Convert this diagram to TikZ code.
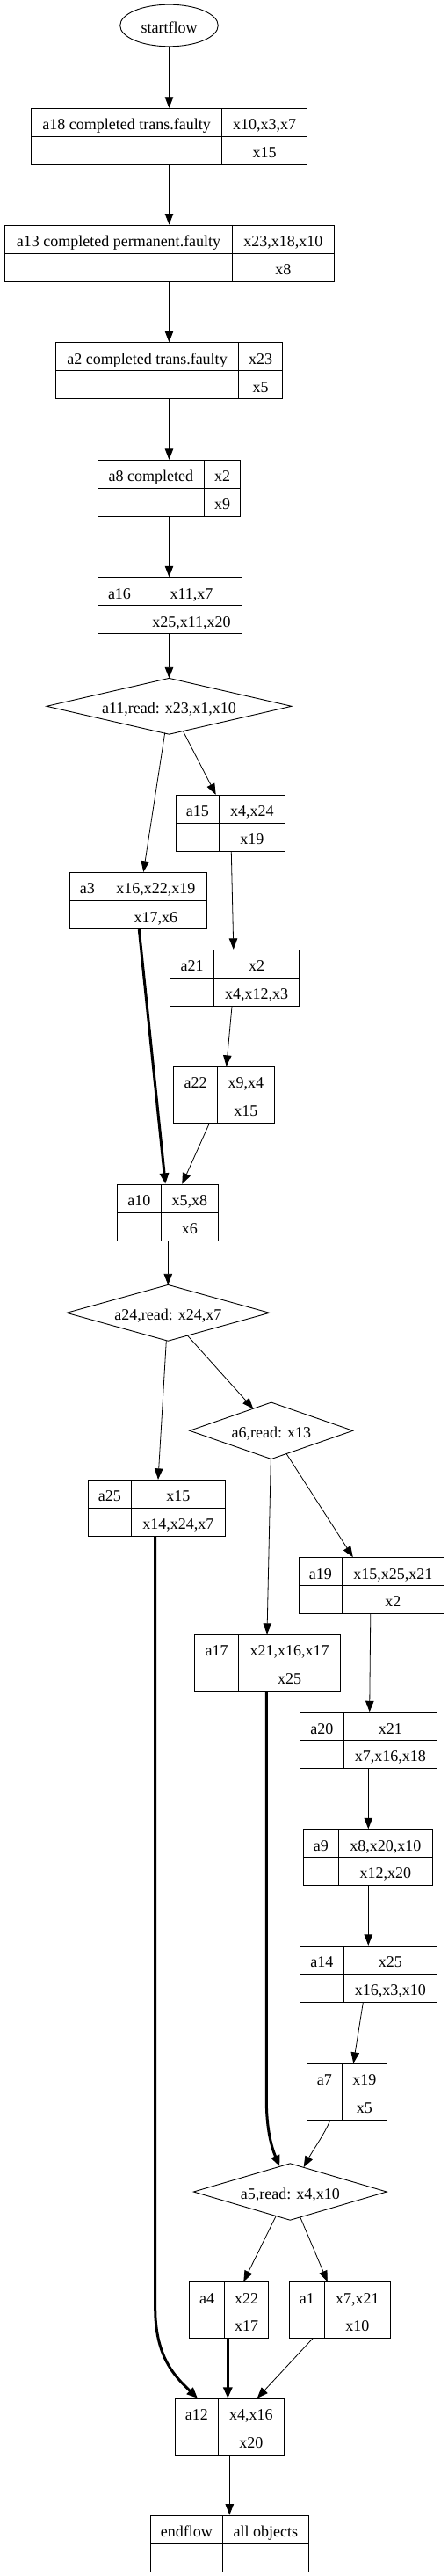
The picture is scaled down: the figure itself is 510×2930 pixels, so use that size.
\documentclass[tikz,border=0pt]{standalone}
\usepackage{fontspec}
\setmainfont{Liberation Serif}
\usetikzlibrary{arrows.meta,shapes.geometric,fit}
\tikzset{
  recline/.style={draw, line width=0.9pt},
  lbl/.style={font=\fontsize{18}{21}\selectfont, inner sep=0pt, anchor=base},
  flow/.style={draw, line width=0.8pt, -{Triangle[length=12.5pt,width=9.5pt]}},
  heavyflow/.style={draw, line width=3pt, -{Triangle[length=12.5pt,width=10pt]}},
}
% name, x1, y1, x2, y2, xdiv, left label, top-right, bottom-right
\newcommand\rec[9]{%
  \node[fit={(#2,#3) (#4,#5)}, inner sep=0pt, recline] (#1) {};
  \draw[line width=0.9pt] (#6,#3) -- (#6,#5);
  \draw[line width=0.9pt] (#2,{(#3+#5)/2}) -- (#4,{(#3+#5)/2});
  \node[lbl] (#1-l) at ({(#2+#6)/2},{(3*#3+#5)/4+8.5}) {#7};
  \node[lbl] (#1-tr) at ({(#6+#4)/2},{(3*#3+#5)/4+8.5}) {#8};
  \node[lbl] (#1-br) at ({(#6+#4)/2},{(#3+3*#5)/4+8.5}) {#9};
}
% name, cx, cy, full width, full height, text
\newcommand\dia[6]{%
  \node[inner sep=0pt, minimum width=#4pt, minimum height=#5pt] (#1) at (#2,#3) {};
  \draw[line width=0.9pt] (#1.north) -- (#1.east) -- (#1.south) -- (#1.west) -- cycle;
  \node[lbl] (#1-t) at (#2,{#3+8}) {#6};
}
\begin{document}
\begin{tikzpicture}[x=1pt,y=-1pt]
\useasboundingbox[fill=white] (0,0) rectangle (510,2930);

\node[draw, ellipse, line width=0.9pt, minimum width=111.6pt, minimum height=47.6pt, inner sep=0pt] (start) at (192.5,29) {};
\node[lbl] (start-t) at (192.5,37.5) {startflow};

\rec{a18}{35.7}{123.3}{349.3}{187.3}{252.7}{a18 completed trans.faulty}{x10,x3,x7}{x15}
\rec{a13}{5.7}{256}{380.3}{320.3}{264.3}{a13 completed permanent.faulty}{x23,x18,x10}{x8}
\rec{a2}{63.3}{389.7}{321.7}{453.7}{271.7}{a2 completed trans.faulty}{x23}{x5}
\rec{a8}{111.3}{523.3}{273.7}{587.3}{232.3}{a8 completed}{x2}{x9}
\rec{a16}{111.3}{656.7}{275.3}{720.7}{160.7}{a16}{x11,x7}{x25,x11,x20}
\dia{a11}{192.5}{803.3}{278.4}{63.4}{a11,read: x23,x1,x10}
\rec{a15}{200.3}{904.3}{324.3}{968.3}{249.3}{a15}{x4,x24}{x19}
\rec{a3}{79.3}{992.3}{235.3}{1056.7}{119.3}{a3}{x16,x22,x19}{x17,x6}
\rec{a21}{193.3}{1080.3}{340.3}{1144.3}{243.7}{a21}{x2}{x4,x12,x3}
\rec{a22}{197.7}{1213.3}{312.3}{1277.3}{247.3}{a22}{x9,x4}{x15}
\rec{a10}{133.3}{1347.3}{248.3}{1411.3}{183.3}{a10}{x5,x8}{x6}
\dia{a24}{191.3}{1493.3}{230.6}{63.4}{a24,read: x24,x7}
\dia{a6}{308.8}{1627.3}{185.6}{64}{a6,read: x13}
\rec{a25}{100.3}{1683.3}{256.3}{1747.3}{149.3}{a25}{x15}{x14,x24,x7}
\rec{a19}{340.3}{1771.7}{505.3}{1835.3}{389.3}{a19}{x15,x25,x21}{x2}
\rec{a17}{221.7}{1859.3}{387.3}{1923.3}{271.7}{a17}{x21,x16,x17}{x25}
\rec{a20}{341.3}{1947.7}{497.3}{2011.3}{391.3}{a20}{x21}{x7,x16,x18}
\rec{a9}{345.3}{2080.7}{492.3}{2144.3}{385.3}{a9}{x8,x20,x10}{x12,x20}
\rec{a14}{341.3}{2213.3}{497.3}{2277.3}{391.3}{a14}{x25}{x16,x3,x10}
\rec{a7}{349.3}{2347.3}{440.3}{2411.3}{389.3}{a7}{x19}{x5}
\dia{a5}{330.3}{2493}{219.4}{64}{a5,read: x4,x10}
\rec{a4}{215.7}{2595.7}{305.3}{2659.3}{255.7}{a4}{x22}{x17}
\rec{a1}{329.3}{2595.7}{444.3}{2659.3}{369.3}{a1}{x7,x21}{x10}
\rec{a12}{199.3}{2728.3}{323.3}{2792.3}{248.3}{a12}{x4,x16}{x20}
\rec{endflow}{171.3}{2861}{351.3}{2925.3}{253.3}{endflow}{all objects}{}

\coordinate (k1) at (176.7,2625);
\coordinate (k2) at (303.3,2390);

\draw[flow] (start.south) -- (a18.north);
\draw[flow] (a18.south) -- (a18.south |- a13.north);
\draw[flow] (a2.north |- a13.south) -- (a2.north);
\draw[flow] (a2.south) -- (a8.north);
\draw[flow] (a8.south) -- (a8.south |- a16.north);
\draw[flow] (a11.north |- a16.south) -- (a11.north);
\draw[flow] ([shift={(-4.8,30.2)}]a11.center) -- ([xshift=6]a3.north);
\draw[flow] ([shift={(15.8,28.1)}]a11.center) -- ([xshift=-16.6]a15.north);
\draw[flow] ([xshift=1]a15.south) -- ([xshift=-1]a21.north);
\draw[heavyflow] ([xshift=1]a3.south) -- ([xshift=-2.5]a10.north);
\draw[flow] ([xshift=-2.8]a21.south) -- ([xshift=2.7]a22.north);
\draw[flow] ([xshift=-16.7]a22.south) -- ([xshift=16.5]a10.north);
\draw[flow] (a24.north |- a10.south) -- (a24.north);
\draw[flow] ([xshift=-2]a24.south) -- ([xshift=1.7]a25.north);
\draw[flow] ([shift={(22,25.6)}]a24.center) -- ([shift={(-20.5,-24.9)}]a6.center);
\draw[flow] ([xshift=-0.5]a6.south) -- ([xshift=-0.5]a17.north);
\draw[flow] ([shift={(17.2,26.1)}]a6.center) -- ([xshift=-21]a19.north);
\draw[heavyflow] ([xshift=-1.6]a25.south) -- (k1) .. controls (176.7,2680) and (198,2702) .. ([xshift=-36.3]a12.north);
\draw[flow] ([xshift=-1]a19.south) -- ([xshift=1.4]a20.north);
\draw[heavyflow] ([xshift=-1.2]a17.south) -- (k2) .. controls (303.5,2422) and (309,2442) .. ([shift={(-12,-29)}]a5.center);
\draw[flow] (a20.south) -- (a20.south |- a9.north);
\draw[flow] (a14.north |- a9.south) -- (a14.north);
\draw[flow] ([xshift=-6]a14.south) -- ([xshift=7.5]a7.north);
\draw[flow] ([xshift=-19]a7.south) .. controls (369,2428) and (356,2446) .. ([shift={(15.4,-28)}]a5.center);
\draw[flow] ([shift={(-16,27.3)}]a5.center) -- ([xshift=16.8]a4.north);
\draw[flow] ([shift={(11.4,28.7)}]a5.center) -- ([xshift=-14]a1.north);
\draw[heavyflow] ([xshift=-1.2]a4.south) -- ([xshift=-2]a12.north);
\draw[flow] ([xshift=-30.8]a1.south) -- ([xshift=31.4]a12.north);
\draw[flow] (a12.south) -- (endflow.north);
\end{tikzpicture}
\end{document}
